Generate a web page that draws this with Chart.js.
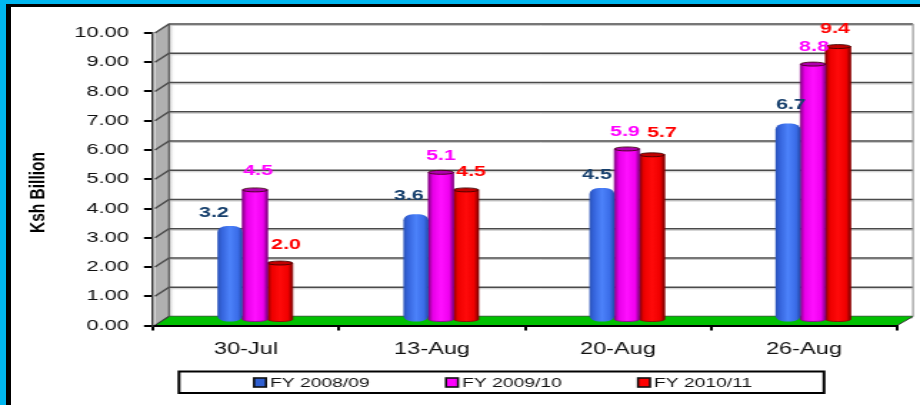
<!DOCTYPE html>
<html>
<head>
<meta charset="utf-8">
<script src="https://cdn.jsdelivr.net/npm/chart.js@4"></script>
<style>
html,body{margin:0;padding:0;background:#fff;width:920px;height:405px;overflow:hidden}
#c{position:absolute;left:0;top:0;transform-origin:0 0;transform:scaleX(1.42857)}
.b{position:absolute;z-index:2}
</style>
</head>
<body>
<canvas id="c" width="644" height="405"></canvas>
<div class="b" style="left:0;top:0;width:920px;height:4px;background:#00b6ef"></div>
<div class="b" style="left:0;top:0;width:6px;height:405px;background:#00b6ef"></div>
<div class="b" style="left:6px;top:4px;width:914px;height:3px;background:#000"></div>
<div class="b" style="left:6px;top:4px;width:5px;height:401px;background:#000"></div>
<script>
const categories = ['30-Jul', '13-Aug', '20-Aug', '26-Aug'];
const seriesNames = ['FY 2008/09', 'FY 2009/10', 'FY 2010/11'];
const fy0809 = [3.2, 3.6, 4.5, 6.7];
const fy0910 = [4.5, 5.1, 5.9, 8.8];
const fy1011 = [2.0, 4.5, 5.7, 9.4];
const yTicks = [0, 1, 2, 3, 4, 5, 6, 7, 8, 9, 10];
const yTitle = 'Ksh Billion';

const K = 920 / 644;              // horizontal stretch of the canvas
const px = v => v / K;            // page px -> canvas px
const WALL = { dx: px(16), dy: -9 };
const BAR = { dx: px(9), dy: -4, ry: 2 };
const FONT = 'Liberation Sans, Arial, sans-serif';
const looks = [
  { stops: ['#2a52b8', '#3564dc', '#4c82fa', '#3a6ce8', '#2448a8'], cap: null, label: '#17406d', swatch: '#2f5fd0', round: true },
  { stops: ['#8a008a', '#e800e8', '#ff10ff', '#f000f0', '#800080'], cap: '#b000b0', label: '#ff00ff', swatch: '#ff00ff', round: false },
  { stops: ['#8c0000', '#ee0000', '#ff0a0a', '#f00000', '#800000'], cap: '#c00000', label: '#ff0000', swatch: '#ff0000', round: false }
];
// label placement relative to the top of each bar, in page px
const labelNudge = [
  [[-16,-16],[-7,-21],[-5,-16],[3,-21]],
  [[3,-20],[0,-17],[-2,-18],[1,-18]],
  [[6,-19],[5,-19],[10,-22],[-3,-18]]
];

const stage = {
  id: 'stage',
  beforeDraw(chart) {
    const { ctx, chartArea: a, scales: { y } } = chart;
    const d = WALL;
    ctx.save();
    // back wall
    ctx.fillStyle = '#fff';
    ctx.fillRect(a.left + d.dx, y.getPixelForValue(10) + d.dy, a.width, y.getPixelForValue(0) - y.getPixelForValue(10));
    // left wall
    ctx.fillStyle = '#b0b0b0';
    ctx.beginPath();
    ctx.moveTo(a.left + px(2), y.getPixelForValue(10));
    ctx.lineTo(a.left + d.dx, y.getPixelForValue(10) + d.dy);
    ctx.lineTo(a.left + d.dx, y.getPixelForValue(0) + d.dy);
    ctx.lineTo(a.left + px(2), y.getPixelForValue(0));
    ctx.closePath();
    ctx.fill();
    const sh = ctx.createLinearGradient(a.left + d.dx, 0, a.left + d.dx + px(5), 0);
    sh.addColorStop(0, '#d0d0d0');
    sh.addColorStop(1, '#ffffff');
    ctx.fillStyle = sh;
    ctx.fillRect(a.left + d.dx, y.getPixelForValue(10) + d.dy, px(5), y.getPixelForValue(0) - y.getPixelForValue(10));
    // grid on the walls
    yTicks.forEach(v => {
      const p = y.getPixelForValue(v);
      ctx.strokeStyle = '#c8c8c8';
      ctx.lineWidth = 1;
      ctx.beginPath();
      ctx.moveTo(a.left + d.dx, p + d.dy + 1.5);
      ctx.lineTo(a.right + d.dx, p + d.dy + 1.5);
      ctx.stroke();
      ctx.strokeStyle = '#4a4a4a';
      ctx.lineWidth = 1.4;
      ctx.beginPath();
      ctx.moveTo(a.left + px(2), p);
      ctx.lineTo(a.left + d.dx, p + d.dy);
      ctx.lineTo(a.right + d.dx, p + d.dy);
      ctx.stroke();
    });
    // wall edges
    ctx.strokeStyle = '#9a9a9a';
    ctx.lineWidth = 1.2;
    ctx.beginPath();
    ctx.moveTo(a.right + d.dx, y.getPixelForValue(10) + d.dy);
    ctx.lineTo(a.right + d.dx, y.getPixelForValue(0) + d.dy);
    ctx.stroke();
    ctx.strokeStyle = '#555';
    ctx.beginPath();
    ctx.moveTo(a.left + d.dx, y.getPixelForValue(10) + d.dy);
    ctx.lineTo(a.left + d.dx, y.getPixelForValue(0) + d.dy);
    ctx.stroke();
    // floor
    ctx.fillStyle = '#00c000';
    ctx.beginPath();
    ctx.moveTo(a.left + px(2), y.getPixelForValue(0));
    ctx.lineTo(a.left + d.dx, y.getPixelForValue(0) + d.dy);
    ctx.lineTo(a.right + d.dx, y.getPixelForValue(0) + d.dy);
    ctx.lineTo(a.right, y.getPixelForValue(0));
    ctx.closePath();
    ctx.fill();
    ctx.strokeStyle = '#333';
    ctx.lineWidth = 1;
    ctx.beginPath();
    ctx.moveTo(a.left + px(2), y.getPixelForValue(0));
    ctx.lineTo(a.left + d.dx, y.getPixelForValue(0) + d.dy);
    ctx.moveTo(a.right, y.getPixelForValue(0));
    ctx.lineTo(a.right + d.dx, y.getPixelForValue(0) + d.dy);
    ctx.stroke();
    ctx.restore();
  },
  beforeDatasetDraw(chart, args) {
    const { ctx } = chart;
    const look = looks[args.index];
    args.meta.data.forEach(el => {
      const { x, y, base, width } = el.getProps(['x', 'y', 'base', 'width'], true);
      const cx = x + BAR.dx, top = y + BAR.dy, bot = base + BAR.dy - 1, hw = width / 2;
      const g = ctx.createLinearGradient(cx - hw, 0, cx + hw, 0);
      [0, 0.18, 0.5, 0.82, 1].forEach((s, i) => g.addColorStop(s, look.stops[i]));
      ctx.save();
      ctx.fillStyle = g;
      if (look.round) {
        const r = { x: hw * 0.75, y: 6 };
        ctx.beginPath();
        ctx.roundRect(cx - hw, top - BAR.ry, width, bot - top + BAR.ry * 2, [r, r, r, r]);
        ctx.fill();
      } else {
        ctx.beginPath();
        ctx.moveTo(cx - hw, top);
        ctx.lineTo(cx - hw, bot);
        ctx.ellipse(cx, bot, hw, BAR.ry, 0, Math.PI, 0, true);
        ctx.lineTo(cx + hw, top);
        ctx.closePath();
        ctx.fill();
        ctx.strokeStyle = look.stops[0];
        ctx.lineWidth = 0.8;
        ctx.stroke();
        ctx.fillStyle = look.cap;
        ctx.strokeStyle = '#300';
        ctx.beginPath();
        ctx.ellipse(cx, top, hw, BAR.ry, 0, 0, Math.PI * 2);
        ctx.fill();
        ctx.stroke();
      }
      ctx.restore();
    });
    return false;
  },
  afterDatasetsDraw(chart) {
    const { ctx } = chart;
    ctx.save();
    ctx.font = 'bold 15px ' + FONT;
    ctx.textAlign = 'center';
    ctx.textBaseline = 'middle';
    chart.data.datasets.forEach((ds, i) => {
      ctx.fillStyle = looks[i].label;
      chart.getDatasetMeta(i).data.forEach((el, j) => {
        const n = labelNudge[i][j];
        ctx.fillText(ds.data[j].toFixed(1), el.x + BAR.dx + px(n[0]), el.y + BAR.dy + n[1] + 0.5);
      });
    });
    ctx.restore();
  },
  afterDraw(chart) {
    const { ctx } = chart;
    ctx.save();
    // axis title
    ctx.translate(px(38), 192.5);
    ctx.rotate(-Math.PI / 2);
    ctx.font = 'bold 15.5px ' + FONT;
    ctx.fillStyle = '#000';
    ctx.textAlign = 'center';
    ctx.textBaseline = 'middle';
    ctx.fillText(yTitle, 0, 0);
    ctx.restore();
    // legend
    ctx.save();
    ctx.strokeStyle = '#000';
    ctx.lineWidth = 2;
    ctx.strokeRect(px(179), 371.5, px(645), 21.5);
    ctx.font = '13.5px ' + FONT;
    ctx.textBaseline = 'middle';
    seriesNames.forEach((name, i) => {
      const sx = px(254 + i * 192);
      ctx.fillStyle = looks[i].swatch;
      ctx.strokeStyle = '#111';
      ctx.lineWidth = 1.6;
      ctx.fillRect(sx, 378, px(12), 9);
      ctx.strokeRect(sx, 378, px(12), 9);
      ctx.fillStyle = '#111';
      ctx.fillText(name, sx + px(16), 383.5);
    });
    ctx.restore();
  }
};

new Chart(document.getElementById('c'), {
  type: 'bar',
  data: {
    labels: categories,
    datasets: [fy0809, fy0910, fy1011].map((d, i) => ({
      label: seriesNames[i], data: d, backgroundColor: looks[i].swatch,
      barPercentage: 1, categoryPercentage: 0.404
    }))
  },
  options: {
    responsive: false,
    animation: false,
    layout: { padding: { left: 0, right: 644 - px(897), top: 33, bottom: 405 - 325.5 - 40 } },
    plugins: { legend: { display: false }, tooltip: { enabled: false } },
    scales: {
      x: {
        afterFit(s) { s.height = 40; },
        offset: true,
        grid: { drawOnChartArea: false, offset: true, color: '#000', tickColor: '#000', tickLength: 5, lineWidth: 2 },
        border: { color: '#000', width: 2 },
        ticks: { color: '#111', font: { family: FONT, size: 16.5 }, padding: 9, maxRotation: 0 }
      },
      y: {
        min: 0, max: 10,
        afterFit(s) { s.width = px(153); },
        grid: { drawOnChartArea: false, color: '#000', tickColor: '#000', tickLength: px(9), lineWidth: 2 },
        border: { color: '#333', width: 1.5 },
        ticks: { stepSize: 1, color: '#111', font: { family: FONT, size: 15.3 }, padding: px(15), callback: v => v.toFixed(2) }
      }
    }
  },
  plugins: [stage]
});
</script>
</body>
</html>
